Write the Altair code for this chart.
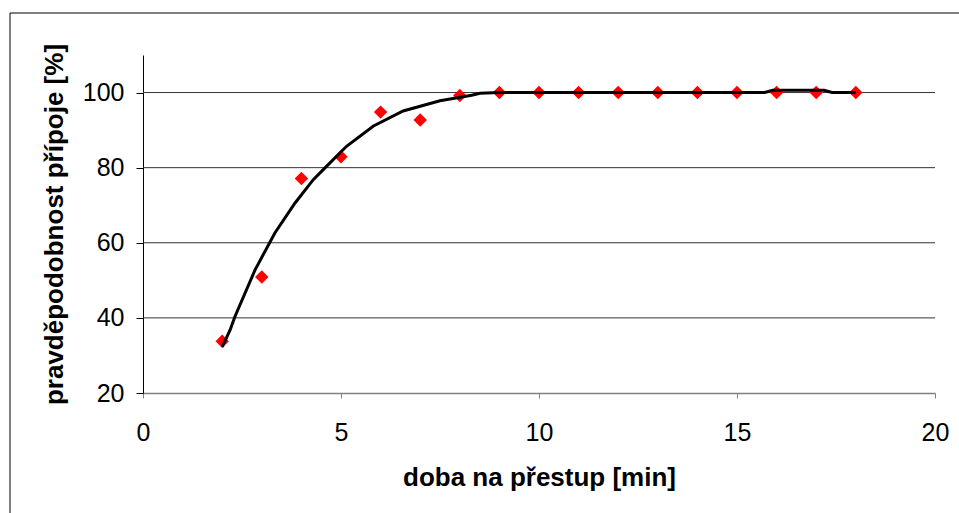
import altair as alt
import pandas as pd

# Observed data points (red diamonds)
pts_x = [2, 3, 4, 5, 6, 7, 8, 9, 10, 11, 12, 13, 14, 15, 16, 17, 18]
pts_y = [33.8, 50.9, 77.1, 82.9, 94.8, 92.7, 99.2, 100, 100, 100, 100, 100, 100, 100, 100, 100, 100]

# Fitted curve (black line)
line_x = [2.0, 2.2, 2.32, 2.83, 3.33, 3.84, 4.30, 4.64, 5.14, 5.82, 6.57, 7.5, 8.3, 8.51, 9.0, 15.7, 15.9, 17.2, 17.4, 18.0]
line_y = [32.3, 36.8, 40.3, 52.8, 62.6, 70.6, 76.8, 80.4, 85.7, 91.1, 95.1, 97.8, 99.3, 99.8, 100, 100, 100.6, 100.6, 100, 100]

grid_vals = [40, 60, 80, 100]
y_ticks = [20, 40, 60, 80, 100]
x_ticks = [0, 5, 10, 15, 20]

x_title = "doba na přestup [min]"
y_title = "pravděpodobnost přípoje [%]"

FONT = "Liberation Sans"

pts = pd.DataFrame({"x": pts_x, "y": pts_y})
line = pd.DataFrame({"x": line_x, "y": line_y})
grid = pd.DataFrame({"g": grid_vals})

xscale = alt.Scale(domain=[0, 20], nice=False, zero=False)
yscale = alt.Scale(domain=[20, 110], nice=False, zero=False)

x_axis = alt.Axis(
    values=x_ticks, grid=False, title=x_title,
    domainColor="#808080", domainWidth=1.5, tickColor="#808080", tickSize=5,
    labelFont=FONT, labelFontSize=25, labelColor="black", labelPadding=22,
    labelFlush=False,
    titleFont=FONT, titleFontSize=26, titleFontWeight="bold", titleColor="black",
    titleBaseline="alphabetic", titleY=92,
)
y_axis = alt.Axis(
    values=y_ticks, grid=False, title=y_title,
    domainColor="black", domainWidth=1, tickColor="black", tickSize=7,
    labelFont=FONT, labelFontSize=25, labelColor="black", labelPadding=12,
    labelFlush=False,
    titleFont=FONT, titleFontSize=26, titleFontWeight="bold", titleColor="black",
    titleAngle=270, titleBaseline="alphabetic", titleX=-81,
)

points = alt.Chart(pts).mark_point(
    shape="diamond", filled=True, color="#FF0000", size=180, opacity=1
).encode(
    x=alt.X("x:Q", scale=xscale, axis=x_axis),
    y=alt.Y("y:Q", scale=yscale, axis=y_axis),
)

border = alt.Chart(pts).mark_rect(
    fill=None, stroke="black", strokeWidth=1, clip=False
).encode(
    x=alt.value(-133), x2=alt.value(826), y=alt.value(-42), y2=alt.value(468)
).transform_filter("datum.x == 2")

gridlines = alt.Chart(grid).mark_rule(color="#333333", strokeWidth=1).encode(
    y=alt.Y("g:Q", scale=yscale, axis=y_axis)
)

curve = alt.Chart(line).mark_line(color="black", strokeWidth=3).encode(
    x=alt.X("x:Q", scale=xscale, axis=x_axis),
    y=alt.Y("y:Q", scale=yscale, axis=y_axis),
)

chart = alt.layer(gridlines, points, curve, border).properties(
    width=792, height=338,
    autosize=alt.AutoSizeParams(type="none"),
    padding={"left": 143, "top": 55, "right": 24, "bottom": 120},
    background="white",
).configure_view(stroke=None)

chart.save("out.html", embed_options={"renderer": "svg", "actions": False})
